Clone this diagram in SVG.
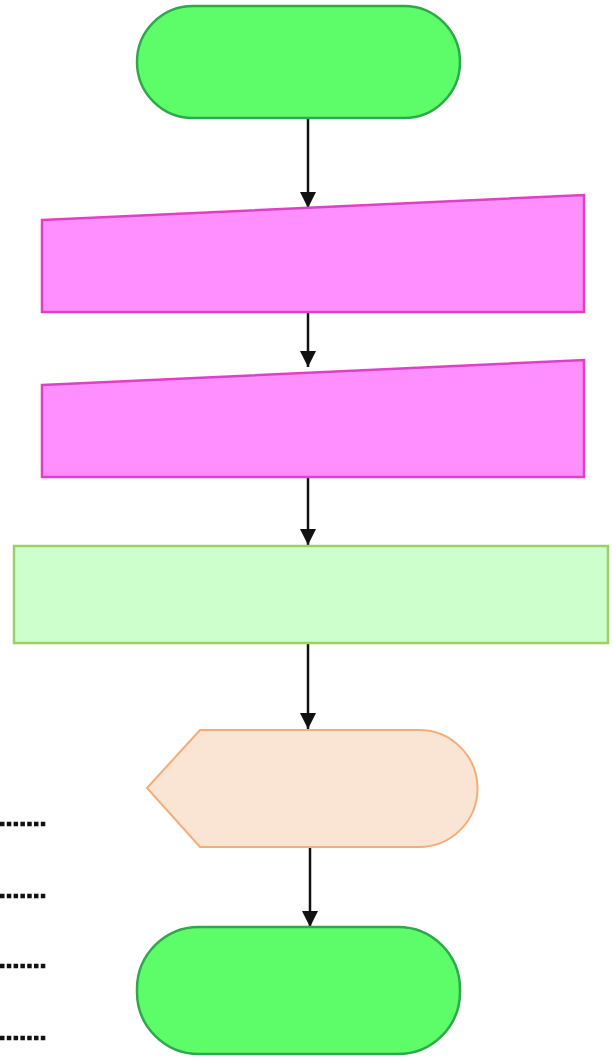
<svg xmlns="http://www.w3.org/2000/svg" width="613" height="1059" viewBox="0 0 613 1059">
<style>
.term{fill:#5cfd68;stroke:#2ea84a;stroke-width:2.5}
.minput{fill:#ff8fff;stroke:#e040c8;stroke-width:2.5}
.proc{fill:#ccffcc;stroke:#9ccf66;stroke-width:2.5}
.disp{fill:#fae5d4;stroke:#f4ad78;stroke-width:2}
.conn{stroke:#111;stroke-width:2.5;fill:none;marker-end:url(#ah)}
.dots{stroke:#111;stroke-width:4.5;stroke-dasharray:4.5 2.3;fill:none}
</style>
<defs>
<marker id="ah" viewBox="0 0 10 10" refX="10" refY="5" markerWidth="6.5" markerHeight="6.5" markerUnits="strokeWidth" orient="auto">
<path d="M0,0 L10,5 L0,10 Z" fill="#111"/>
</marker>
</defs>
<rect width="613" height="1059" fill="#ffffff"/>
<g id="connectors">
<line class="conn" x1="308" y1="118" x2="308" y2="208"/>
<line class="conn" x1="308" y1="312" x2="308" y2="367"/>
<line class="conn" x1="308" y1="477" x2="308" y2="545"/>
<line class="conn" x1="308" y1="644" x2="308" y2="729"/>
<line class="conn" x1="310" y1="847" x2="310" y2="927"/>
</g>
<g id="start"><rect class="term" x="137" y="6" width="323" height="112" rx="56" ry="56"/></g>
<g id="input1"><polygon class="minput" points="42,220 584,195 584,312 42,312"/></g>
<g id="input2"><polygon class="minput" points="42,385 584,360 584,477 42,477"/></g>
<g id="process"><rect class="proc" x="14" y="546" width="594" height="97"/></g>
<g id="display"><path class="disp" d="M147,788 L200,730 L419,730 A58.5,58.5 0 0 1 419,847 L200,847 Z"/></g>
<g id="end"><rect class="term" x="137" y="927" width="323" height="127" rx="62" ry="62"/></g>
<g id="dotted">
<line class="dots" x1="0" y1="824" x2="47" y2="824"/>
<line class="dots" x1="0" y1="896" x2="47" y2="896"/>
<line class="dots" x1="0" y1="966" x2="47" y2="966"/>
<line class="dots" x1="0" y1="1038" x2="47" y2="1038"/>
</g>
</svg>
